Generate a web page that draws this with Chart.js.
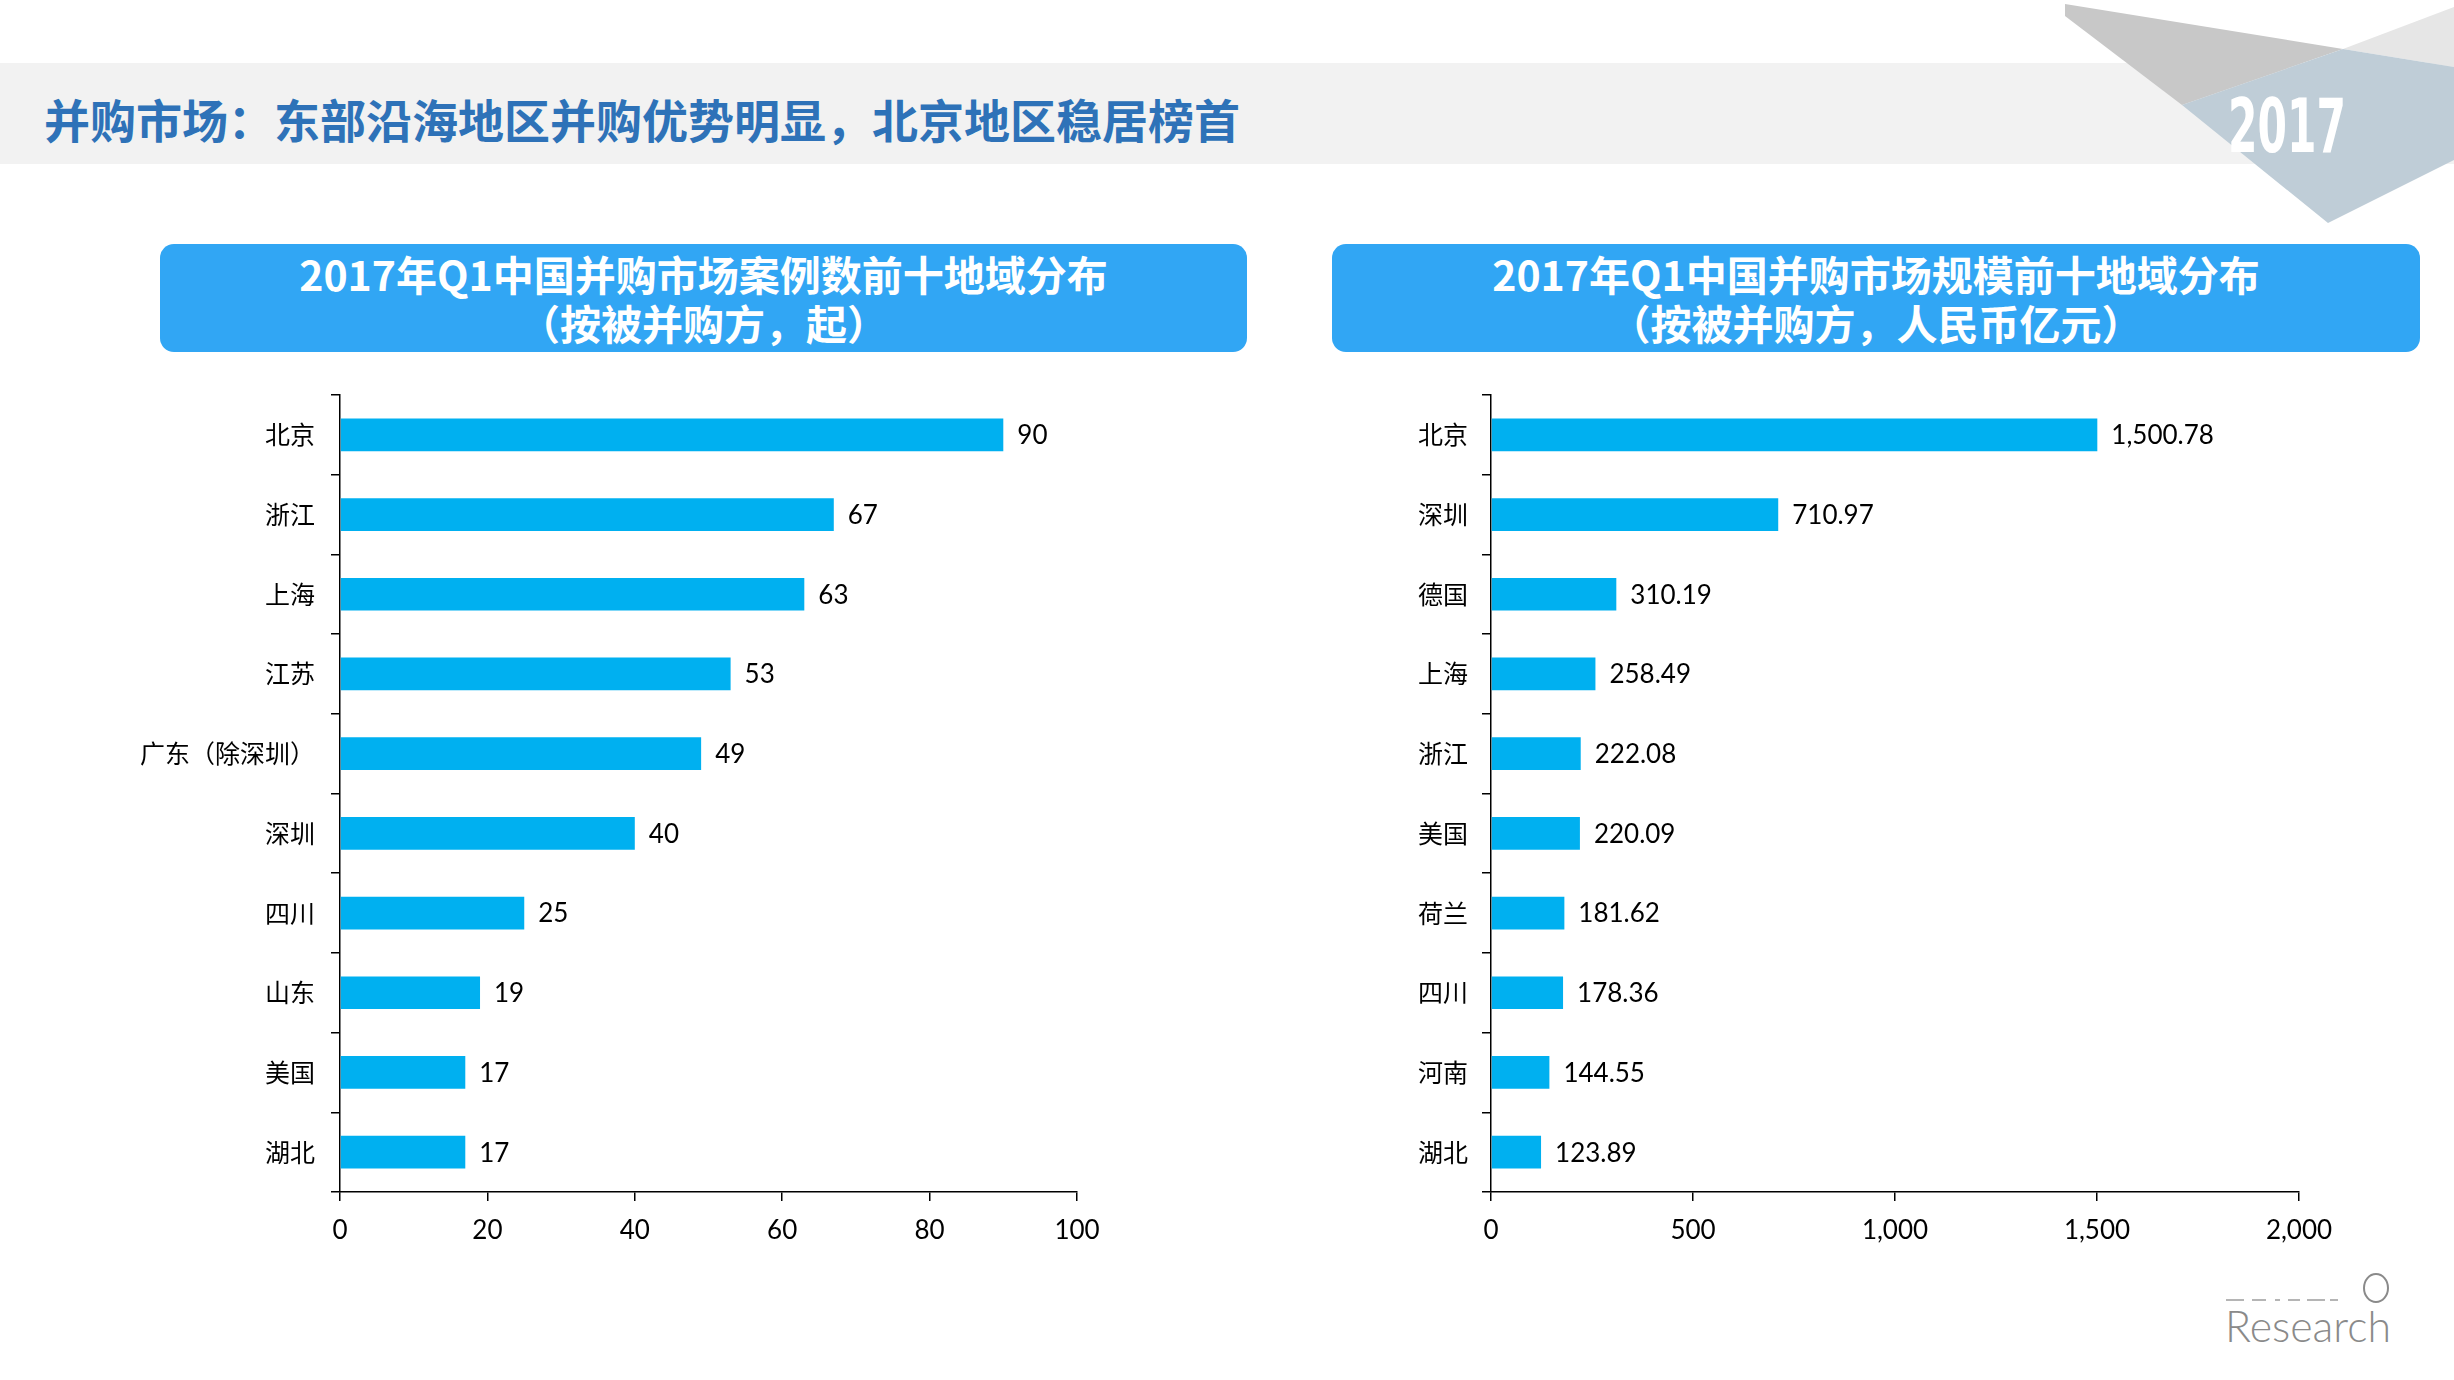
<!DOCTYPE html>
<html>
<head>
<meta charset="utf-8">
<script src="https://cdn.jsdelivr.net/npm/chart.js@4.4.1/dist/chart.umd.min.js"></script>
<style>
  html, body { margin:0; padding:0; background:#fff; width:2454px; height:1380px; overflow:hidden; }
  #bg { position:absolute; left:0; top:0; }
  .title { position:absolute; left:44px; top:88px; height:60px; line-height:60px; font-family:"Noto Sans CJK SC", sans-serif; font-weight:700; font-size:46px; color:#2e72b8; white-space:nowrap; }
  .hdr { position:absolute; top:244px; height:108px; background:#31a6f4; border-radius:14px; color:#fff; font-family:"Noto Sans CJK SC", sans-serif; font-weight:700; font-size:41px; line-height:49px; display:flex; flex-direction:column; justify-content:center; align-items:center; white-space:nowrap; }
  .chartbox { position:absolute; top:370px; width:1100px; height:900px; }
</style>
</head>
<body>
<svg id="bg" width="2454" height="1380" xmlns="http://www.w3.org/2000/svg">
  <rect x="0" y="63" width="2454" height="101" fill="#f2f2f2"/>
  <polygon points="2343,49 2454,7 2454,67" fill="#e6e6e6"/>
  <polygon points="2065,4 2343,49 2182,105 2065,16" fill="#c8c8c8"/>
  <polygon points="2182,105 2343,49 2454,67 2454,160 2328,223" fill="#bfcdd7"/>
  <text x="2228" y="152" fill="#ffffff" font-family="DejaVu Sans Condensed, DejaVu Sans" font-weight="bold" font-size="74" textLength="118" lengthAdjust="spacingAndGlyphs">2017</text>
  <g stroke="#b5b5b5" stroke-width="2">
    <line x1="2226" y1="1300" x2="2244" y2="1300"/>
    <line x1="2252" y1="1300" x2="2266" y2="1300"/>
    <line x1="2275" y1="1300" x2="2280" y2="1300"/>
    <line x1="2288" y1="1300" x2="2300" y2="1300"/>
    <line x1="2307" y1="1300" x2="2325" y2="1300"/>
    <line x1="2330" y1="1300" x2="2338" y2="1300"/>
  </g>
  <ellipse cx="2376" cy="1288" rx="12" ry="14" fill="none" stroke="#8a8a8a" stroke-width="2"/>
  <text x="2225" y="1342" fill="#8a8a8a" font-family="Lato, Roboto, sans-serif" font-weight="300" font-size="44" textLength="166" lengthAdjust="spacingAndGlyphs">Research</text>
</svg>

<div class="title">并购市场：东部沿海地区并购优势明显，北京地区稳居榜首</div>
<div class="hdr" style="left:160px; width:1087px;"><div>2017年Q1中国并购市场案例数前十地域分布</div><div>（按被并购方，起）</div></div>
<div class="hdr" style="left:1332px; width:1088px;"><div>2017年Q1中国并购市场规模前十地域分布</div><div>（按被并购方，人民币亿元）</div></div>

<div class="chartbox" style="left:60px;"><canvas id="c1" width="1100" height="900"></canvas></div>
<div class="chartbox" style="left:1300px;"><canvas id="c2" width="1100" height="900"></canvas></div>

<script>
const leftCategories = ['北京','浙江','上海','江苏','广东（除深圳）','深圳','四川','山东','美国','湖北'];
const leftValues = [90, 67, 63, 53, 49, 40, 25, 19, 17, 17];
const leftTicks = [0, 20, 40, 60, 80, 100];

const rightCategories = ['北京','深圳','德国','上海','浙江','美国','荷兰','四川','河南','湖北'];
const rightValues = [1500.78, 710.97, 310.19, 258.49, 222.08, 220.09, 181.62, 178.36, 144.55, 123.89];
const rightTicks = [0, 500, 1000, 1500, 2000];

const numFont = 'Lato, "Noto Sans", sans-serif';
const cjkFont = '"Noto Sans CJK SC", sans-serif';

const valueLabels = {
  id: 'valueLabels',
  afterDatasetsDraw(chart, args, opts) {
    const ctx = chart.ctx;
    const meta = chart.getDatasetMeta(0);
    const data = chart.data.datasets[0].data;
    ctx.save();
    ctx.font = '26px ' + numFont;
    ctx.fillStyle = '#000';
    ctx.textBaseline = 'middle';
    ctx.textAlign = 'left';
    meta.data.forEach((bar, i) => {
      ctx.fillText(opts.format(data[i]), bar.x + opts.offset, bar.y + 1);
    });
    ctx.restore();
  }
};

function makeChart(id, cats, vals, ticks, yWidth, rightPad, yPad, fmtLabel, fmtTick) {
  return new Chart(document.getElementById(id), {
    type: 'bar',
    data: {
      labels: cats,
      datasets: [{ data: vals, backgroundColor: '#00b0f0', barPercentage: 0.41, categoryPercentage: 1 }]
    },
    options: {
      indexAxis: 'y',
      responsive: false,
      animation: false,
      devicePixelRatio: 1,
      layout: { padding: { top: 25, right: rightPad, left: 0, bottom: 0 } },
      plugins: {
        legend: { display: false },
        tooltip: { enabled: false },
        valueLabels: { offset: 14, format: fmtLabel }
      },
      scales: {
        y: {
          type: 'category',
          afterFit(s) { s.width = yWidth; s.paddingTop = 0; s.paddingBottom = 0; },
          grid: { display: true, offset: true, drawOnChartArea: false, drawTicks: true, tickLength: 9, color: '#000', lineWidth: 1.5 },
          border: { display: true, color: '#000', width: 1.5 },
          ticks: { color: '#000', padding: yPad, font: { family: cjkFont, size: 25 } }
        },
        x: {
          type: 'linear',
          min: ticks[0],
          max: ticks[ticks.length - 1],
          afterFit(s) { s.height = 78; },
          afterBuildTicks(s) { s.ticks = ticks.map(v => ({ value: v })); },
          grid: { display: true, drawOnChartArea: false, drawTicks: true, tickLength: 9, color: '#000', lineWidth: 1.5 },
          border: { display: true, color: '#000', width: 1.5 },
          ticks: { color: '#000', padding: 14, maxRotation: 0, font: { family: numFont, size: 26 }, callback: fmtTick }
        }
      }
    },
    plugins: [valueLabels]
  });
}

makeChart('c1', leftCategories, leftValues, leftTicks, 280, 83, 16,
  v => String(v), v => String(v));
makeChart('c2', rightCategories, rightValues, rightTicks, 191, 101, 14,
  v => v.toLocaleString('en-US', { minimumFractionDigits: 2, maximumFractionDigits: 2 }),
  v => v.toLocaleString('en-US'));
</script>
</body>
</html>
